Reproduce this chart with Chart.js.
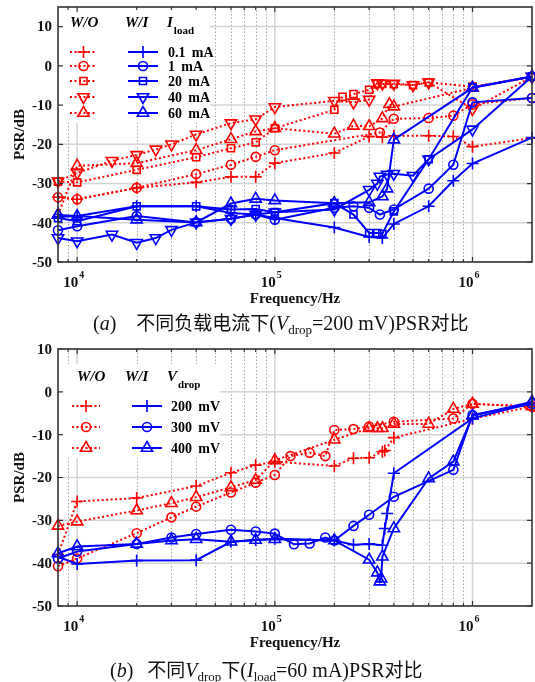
<!DOCTYPE html>
<html>
<head>
<meta charset="utf-8">
<script src="https://cdn.jsdelivr.net/npm/chart.js@4.4.0/dist/chart.umd.min.js"></script>
<style>
html, body { margin: 0; padding: 0; background: #fff; }
#wrap { position: relative; width: 535px; height: 682px; overflow: hidden; }
canvas { position: absolute; left: 0; }
</style>
</head>
<body>
<div id="wrap">
<canvas id="chartA" width="535" height="340" style="top:0px"></canvas>
<canvas id="chartB" width="535" height="342" style="top:340px"></canvas>
</div>
<script>
// frequencies are in kHz, values in dB

// (a) W/O, red dotted
const aRedPlusF = [8, 10, 20, 40, 60, 80, 100, 200, 300, 350, 400, 600, 800, 1000, 2000];
const aRedPlus  = [-33.5, -34, -31.1, -29.7, -28.3, -28.3, -24.8, -22.2, -18, -18.2, -17.8, -17.8, -18, -20.6, -18.4];
const aRedCircF = [8, 10, 20, 40, 60, 80, 100, 340, 400, 600, 800, 1000, 2000];
const aRedCirc  = [-33.5, -34, -31.1, -27.6, -25.2, -23.2, -21.5, -17, -13.5, -13.3, -12.7, -9.8, -8.2];
const aRedSqF = [8, 10, 20, 40, 60, 80, 100, 200, 220, 250, 300, 330, 350, 400, 500, 600, 1000, 2000];
const aRedSq  = [-29.5, -29.7, -26.5, -23.3, -21, -19.5, -15.9, -11.2, -7.9, -7.2, -6.1, -4.5, -4.6, -4.7, -4.9, -4.2, -5.3, -2.8];
const aRedDownF = [8, 10, 15, 20, 25, 30, 40, 60, 80, 100, 200, 250, 300, 330, 350, 400, 500, 600, 1000, 2000];
const aRedDown  = [-29.4, -27.3, -24.2, -22.7, -21.3, -20, -17.5, -14.6, -13.6, -10.5, -8.9, -9.3, -8.6, -4.4, -4.5, -4.5, -4.9, -4.2, -11, -2.8];
const aRedUpF = [8, 10, 20, 40, 60, 80, 100, 200, 250, 300, 350, 380, 400, 1000, 2000];
const aRedUp  = [-38, -25.5, -24.8, -21.5, -18.7, -16.7, -15.9, -17.3, -15.3, -15.4, -13.4, -9.8, -10.4, -5.6, -2.8];

// (a) W/I, blue solid
const aBluePlusF = [8, 10, 20, 40, 60, 80, 100, 200, 300, 350, 400, 600, 800, 1000, 2000];
const aBluePlus  = [-38.5, -38.3, -35.8, -35.8, -37.5, -37.9, -38.8, -41.2, -43.6, -43.9, -40.3, -35.8, -29.3, -24.9, -18.3];
const aBlueCircF = [8, 10, 20, 40, 60, 80, 100, 200, 250, 300, 340, 400, 600, 800, 1000, 2000];
const aBlueCirc  = [-41.9, -40.9, -38.3, -39.9, -39, -37.9, -39.2, -36.2, -35.8, -36.2, -37.9, -36.6, -31.3, -25.2, -9.3, -8.2];
const aBlueSqF = [8, 10, 20, 40, 60, 80, 100, 200, 250, 300, 330, 350, 400, 600, 1000, 2000];
const aBlueSq  = [-38.8, -39.6, -35.8, -35.8, -36.6, -36.5, -37.3, -35, -37.9, -42.6, -42.6, -42.8, -37.1, -23.8, -5.5, -2.7];
const aBlueDownF = [8, 10, 15, 20, 25, 30, 40, 60, 80, 100, 200, 300, 330, 340, 370, 400, 500, 600, 1000, 2000];
const aBlueDown  = [-43.9, -44.7, -43, -45.1, -43.9, -41.8, -39.9, -39, -37.9, -37.3, -36.6, -31.6, -30, -28.2, -27.7, -27.5, -28, -23.8, -16.2, -2.7];
const aBlueUpF = [8, 10, 20, 40, 60, 80, 100, 200, 300, 350, 370, 400, 1000, 2000];
const aBlueUp  = [-38, -38.3, -39.2, -39.9, -35.1, -33.9, -34.3, -35, -34.8, -33.3, -31.3, -18.8, -5.6, -2.7];

// (b) W/O, red dotted
const bRedPlusF = [8, 10, 20, 40, 60, 80, 100, 200, 250, 300, 350, 360, 400, 1000, 2000];
const bRedPlus  = [-38, -25.6, -24.8, -22, -18.9, -17.1, -16.3, -17.3, -15.5, -15.4, -14, -13.7, -10.7, -6.3, -3.4];
const bRedCircF = [8, 10, 20, 30, 40, 60, 80, 100, 120, 150, 180, 200, 250, 300, 400, 800, 1000, 2000];
const bRedCirc  = [-40.7, -38.9, -33, -29.3, -26.8, -23.5, -21.2, -19.4, -15, -14.2, -15, -8.9, -8.7, -8.1, -7, -6.2, -2.8, -3.5];
const bRedUpF = [8, 10, 20, 30, 40, 60, 80, 100, 200, 300, 330, 350, 400, 600, 800, 1000, 2000];
const bRedUp  = [-31.3, -30.3, -27.7, -26, -24.6, -22.3, -20.6, -16, -11.2, -8.5, -8.5, -8.5, -7.5, -7.5, -4, -2.8, -3.4];

// (b) W/I, blue solid
const bBluePlusF = [8, 10, 20, 40, 60, 80, 100, 200, 250, 300, 350, 360, 370, 400, 1000, 2000];
const bBluePlus  = [-38.5, -40.2, -39.4, -39.3, -35, -34.6, -34.3, -34.7, -35.7, -35.5, -35.8, -31.9, -28.4, -19, -6.2, -2.6];
const bBlueCircF = [8, 10, 20, 30, 40, 60, 80, 100, 125, 150, 180, 200, 250, 300, 400, 800, 1000, 2000];
const bBlueCirc  = [-38.9, -37.3, -35.5, -34, -33.2, -32.2, -32.6, -33.1, -35.6, -35.4, -34, -34.7, -31.3, -28.7, -24.5, -18.2, -5.4, -2.8];
const bBlueUpF = [8, 10, 20, 30, 40, 60, 80, 100, 200, 300, 330, 340, 345, 350, 400, 600, 800, 1000, 2000];
const bBlueUp  = [-37.7, -36.1, -35.5, -34.7, -34.4, -35, -34.6, -34.4, -34.7, -39.2, -42.2, -44.3, -43.6, -38.5, -31.9, -20.2, -16.3, -5.6, -2.3];

const yTicks = [-50, -40, -30, -20, -10, 0, 10];
const xMajor = [10, 100, 1000];
const xMajorExp = ['4', '5', '6'];
const xMinor = [9, 20, 30, 40, 50, 60, 70, 80, 90, 200, 300, 400, 500, 600, 700, 800, 900];
const loadLabels = ['0.1 mA', '1 mA', '20 mA', '40 mA', '60 mA'];
const dropLabels = ['200 mV', '300 mV', '400 mV'];

const RED = '#ff0000', BLUE = '#0000ff';
const SERIF = "'Liberation Serif', 'Times New Roman', serif";
const CJK = "'Noto Sans CJK SC', sans-serif";

const MARK = {
  plus: { pointStyle: 'cross', radius: 6, rotation: 0 },
  circ: { pointStyle: 'circle', radius: 4.5, rotation: 0 },
  sq:   { pointStyle: 'rect', radius: 5, rotation: 0 },
  down: { pointStyle: 'triangle', radius: 6.5, rotation: 180 },
  up:   { pointStyle: 'triangle', radius: 6.5, rotation: 0 }
};

function series(freqs, vals, color, mark, dotted) {
  const m = MARK[mark];
  return {
    data: freqs.map((f, i) => ({ x: f, y: vals[i] })),
    borderColor: color,
    borderWidth: 2,
    borderDash: dotted ? [2, 2.5] : [],
    pointStyle: m.pointStyle,
    pointRotation: m.rotation,
    pointRadius: m.radius,
    pointBorderColor: color,
    pointBackgroundColor: 'rgba(0,0,0,0)',
    pointBorderWidth: 1.6,
    tension: 0,
    fill: false,
    clip: false
  };
}

function drawMarker(ctx, mark, color, x, y) {
  const m = MARK[mark];
  ctx.save();
  ctx.strokeStyle = color;
  ctx.fillStyle = 'rgba(0,0,0,0)';
  ctx.lineWidth = 1.6;
  ctx.setLineDash([]);
  Chart.helpers.drawPoint(ctx, { pointStyle: m.pointStyle, radius: m.radius, rotation: m.rotation, borderWidth: 1.6 }, x, y);
  ctx.restore();
}

function drawGrid(c) {
  const { ctx, chartArea: a, scales: { x, y } } = c;
  ctx.save();
  ctx.beginPath();
  ctx.rect(a.left, a.top, a.width, a.height);
  ctx.clip();
  ctx.lineWidth = 1;
  ctx.strokeStyle = '#a8a8a8';
  ctx.setLineDash([1.5, 2]);
  xMinor.forEach(f => {
    const px = Math.round(x.getPixelForValue(f)) + 0.5;
    ctx.beginPath(); ctx.moveTo(px, a.top); ctx.lineTo(px, a.bottom); ctx.stroke();
  });
  ctx.setLineDash([]);
  ctx.strokeStyle = '#d4d4d4';
  ctx.lineWidth = 1.5;
  xMajor.forEach(f => {
    const px = x.getPixelForValue(f);
    ctx.beginPath(); ctx.moveTo(px, a.top); ctx.lineTo(px, a.bottom); ctx.stroke();
  });
  yTicks.forEach(v => {
    const py = y.getPixelForValue(v);
    ctx.beginPath(); ctx.moveTo(a.left, py); ctx.lineTo(a.right, py); ctx.stroke();
  });
  ctx.restore();
}

function drawText(ctx, segs, x, y) {
  segs.forEach(s => {
    ctx.font = s.font;
    ctx.fillText(s.t, x, y + (s.dy || 0));
    x += ctx.measureText(s.t).width + (s.gap || 0);
  });
}

function drawFrame(c, lg) {
  const { ctx, chartArea: a, scales: { x, y } } = c;
  ctx.save();
  // legend box
  ctx.fillStyle = '#fff';
  ctx.fillRect(lg.box[0], lg.box[1], lg.box[2], lg.box[3]);
  ctx.fillStyle = '#000';
  ctx.textBaseline = 'middle';
  ctx.textAlign = 'left';
  ctx.font = 'bold italic 15px ' + SERIF;
  ctx.fillText('W/O', lg.woX, lg.headY);
  ctx.fillText('W/I', lg.wiX, lg.headY);
  drawText(ctx, [
    { t: lg.varName, font: 'bold italic 15px ' + SERIF, gap: 1 },
    { t: lg.varSub, font: 'bold 11px ' + SERIF, dy: 8 }
  ], lg.varX, lg.headY);
  lg.labels.forEach((lab, i) => {
    const ry = lg.rows[i];
    ctx.lineWidth = 2;
    ctx.strokeStyle = RED;
    ctx.setLineDash([2, 2.5]);
    ctx.beginPath(); ctx.moveTo(lg.redX[0], ry); ctx.lineTo(lg.redX[1], ry); ctx.stroke();
    ctx.setLineDash([]);
    ctx.strokeStyle = BLUE;
    ctx.beginPath(); ctx.moveTo(lg.blueX[0], ry); ctx.lineTo(lg.blueX[1], ry); ctx.stroke();
    drawMarker(ctx, lg.marks[i], RED, (lg.redX[0] + lg.redX[1]) / 2, ry);
    drawMarker(ctx, lg.marks[i], BLUE, (lg.blueX[0] + lg.blueX[1]) / 2, ry);
    ctx.fillStyle = '#000';
    ctx.font = 'bold 14px ' + SERIF;
    ctx.fillText(lab.replace(' ', '\u2009 '), lg.labelX, ry + 1);
  });

  // frame and inward ticks
  ctx.strokeStyle = '#333';
  ctx.lineWidth = 1.6;
  ctx.strokeRect(a.left, a.top, a.width, a.height);
  ctx.lineWidth = 1.2;
  ctx.beginPath();
  yTicks.forEach(v => {
    const py = y.getPixelForValue(v);
    ctx.moveTo(a.left, py); ctx.lineTo(a.left + 5, py);
    ctx.moveTo(a.right, py); ctx.lineTo(a.right - 5, py);
  });
  xMajor.forEach(f => {
    const px = x.getPixelForValue(f);
    ctx.moveTo(px, a.bottom); ctx.lineTo(px, a.bottom - 5);
    ctx.moveTo(px, a.top); ctx.lineTo(px, a.top + 5);
  });
  xMinor.forEach(f => {
    const px = x.getPixelForValue(f);
    ctx.moveTo(px, a.bottom); ctx.lineTo(px, a.bottom - 3);
    ctx.moveTo(px, a.top); ctx.lineTo(px, a.top + 3);
  });
  ctx.stroke();

  // tick labels
  ctx.fillStyle = '#111';
  ctx.font = 'bold 15px ' + SERIF;
  ctx.textAlign = 'right';
  ctx.textBaseline = 'middle';
  yTicks.forEach(v => ctx.fillText(String(v), a.left - 6, y.getPixelForValue(v) + 1));
  ctx.textAlign = 'left';
  xMajor.forEach((f, i) => {
    const px = x.getPixelForValue(f);
    ctx.font = 'bold 15px ' + SERIF;
    const w = ctx.measureText('10').width;
    ctx.fillText('10', px - w + 1, a.bottom + 21);
    ctx.font = 'bold 10px ' + SERIF;
    ctx.fillText(xMajorExp[i], px + 2, a.bottom + 13);
  });

  // axis titles
  ctx.font = 'bold 15px ' + SERIF;
  ctx.textAlign = 'center';
  ctx.fillText('Frequency/Hz', (a.left + a.right) / 2, a.bottom + 37);
  ctx.save();
  ctx.translate(20, (a.top + a.bottom) / 2);
  ctx.rotate(-Math.PI / 2);
  ctx.fillText('PSR/dB', 0, 0);
  ctx.restore();

  // caption
  ctx.textAlign = 'left';
  ctx.textBaseline = 'alphabetic';
  ctx.fillStyle = '#111';
  drawText(ctx, lg.caption, lg.capX, lg.capY);
  ctx.restore();
}

function makeChart(id, datasets, yMax, pad, lg) {
  return new Chart(document.getElementById(id), {
    type: 'line',
    data: { datasets: datasets },
    options: {
      responsive: false,
      animation: false,
      layout: { padding: pad, autoPadding: false },
      plugins: { legend: { display: false }, tooltip: { enabled: false } },
      scales: {
        x: { type: 'logarithmic', min: 8, max: 2000, display: false },
        y: { type: 'linear', min: -50, max: yMax, display: false }
      }
    },
    plugins: [{
      id: 'psrDeco',
      beforeDatasetsDraw: c => drawGrid(c),
      afterDatasetsDraw: c => drawFrame(c, lg)
    }]
  });
}

const capLatin = '20px ' + SERIF, capIt = 'italic 20px ' + SERIF, capSub = '13px ' + SERIF, capCJK = '19px ' + CJK;

const chartA = makeChart('chartA', [
  series(aBluePlusF, aBluePlus, BLUE, 'plus', false),
  series(aBlueCircF, aBlueCirc, BLUE, 'circ', false),
  series(aBlueSqF, aBlueSq, BLUE, 'sq', false),
  series(aBlueDownF, aBlueDown, BLUE, 'down', false),
  series(aBlueUpF, aBlueUp, BLUE, 'up', false),
  series(aRedPlusF, aRedPlus, RED, 'plus', true),
  series(aRedCircF, aRedCirc, RED, 'circ', true),
  series(aRedSqF, aRedSq, RED, 'sq', true),
  series(aRedDownF, aRedDown, RED, 'down', true),
  series(aRedUpF, aRedUp, RED, 'up', true)
], 15, { left: 58, right: 3, top: 7, bottom: 78 }, {
  box: [59, 8, 151, 115],
  headY: 23, woX: 70, wiX: 125, varX: 167, varName: 'I', varSub: 'load',
  rows: [52, 66, 81, 97, 113],
  redX: [70, 97], blueX: [128, 158], labelX: 168,
  labels: loadLabels, marks: ['plus', 'circ', 'sq', 'down', 'up'],
  capX: 93, capY: 330,
  caption: [
    { t: '(', font: capLatin }, { t: 'a', font: capIt }, { t: ')', font: capLatin, gap: 20 },
    { t: '不同负载电流下', font: capCJK },
    { t: '(', font: capLatin }, { t: 'V', font: capIt },
    { t: 'drop', font: capSub, dy: 4 },
    { t: '=200 mV)PSR', font: capLatin },
    { t: '对比', font: capCJK }
  ]
});

const chartB = makeChart('chartB', [
  series(bBluePlusF, bBluePlus, BLUE, 'plus', false),
  series(bBlueCircF, bBlueCirc, BLUE, 'circ', false),
  series(bBlueUpF, bBlueUp, BLUE, 'up', false),
  series(bRedPlusF, bRedPlus, RED, 'plus', true),
  series(bRedCircF, bRedCirc, RED, 'circ', true),
  series(bRedUpF, bRedUp, RED, 'up', true)
], 10, { left: 58, right: 3, top: 9, bottom: 76 }, {
  box: [59, 24, 161, 94],
  headY: 37, woX: 77, wiX: 125, varX: 167, varName: 'V', varSub: 'drop',
  rows: [66, 87, 108],
  redX: [72, 100], blueX: [132, 162], labelX: 171,
  labels: dropLabels, marks: ['plus', 'circ', 'up'],
  capX: 110, capY: 337,
  caption: [
    { t: '(', font: capLatin }, { t: 'b', font: capIt }, { t: ')', font: capLatin, gap: 14 },
    { t: '不同', font: capCJK },
    { t: 'V', font: capIt }, { t: 'drop', font: capSub, dy: 4 },
    { t: '下', font: capCJK },
    { t: '(', font: capLatin }, { t: 'I', font: capIt }, { t: 'load', font: capSub, dy: 4 },
    { t: '=60 mA)PSR', font: capLatin },
    { t: '对比', font: capCJK }
  ]
});
</script>
</body>
</html>
